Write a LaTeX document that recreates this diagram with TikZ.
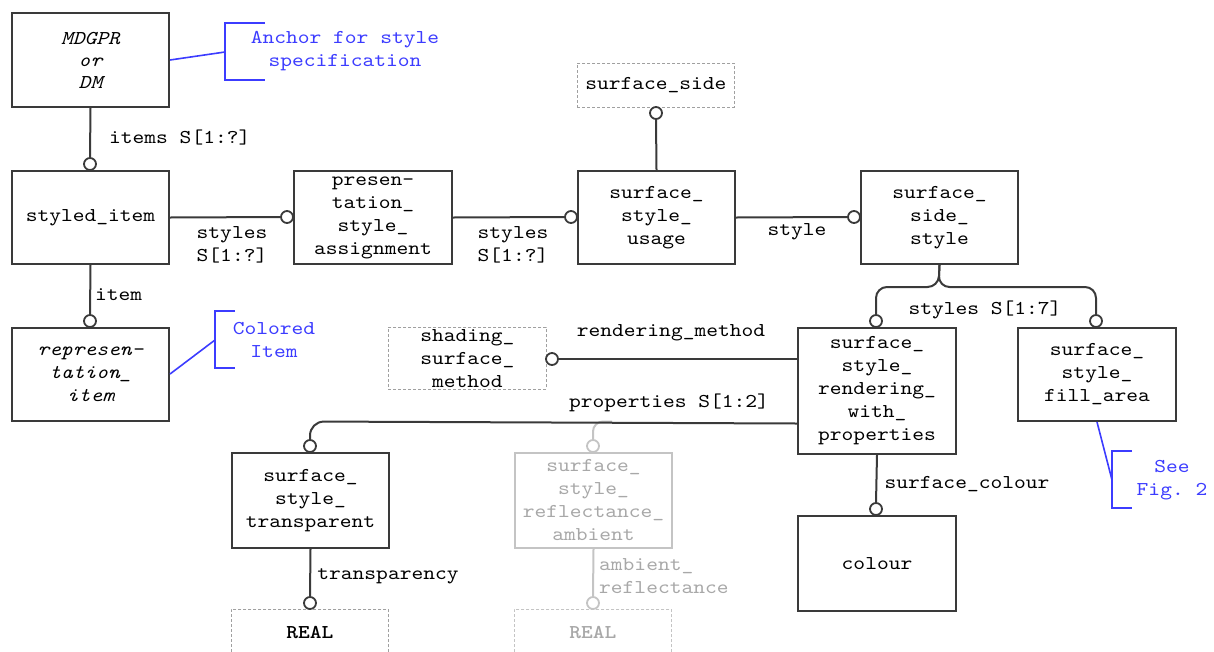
\documentclass[tikz,border=0pt]{standalone}
\usepackage{fontspec}
\setmonofont[FakeStretch=1.143, ItalicFont=lmmono10-italic.otf, BoldFont=lmmonolt10-bold.otf, BoldFeatures={FakeStretch=1.143}, ItalicFeatures={FakeStretch=1.143}]{lmmono10-regular.otf}
\usetikzlibrary{calc}
\definecolor{ln}{HTML}{3A3A3A}
\definecolor{bl}{HTML}{3C3CFF}
\definecolor{gtxt}{HTML}{A8A8A8}
\definecolor{gln}{HTML}{C4C4C4}
\definecolor{dsh}{HTML}{A0A0A0}
\begin{document}
\begin{tikzpicture}[x=1pt,y=-1pt,
  every node/.style={font=\ttfamily\fontsize{19.6}{23}\selectfont},
  ent/.style={draw=ln, line width=2pt, minimum width=157pt, minimum height=93pt, inner sep=0pt, align=center, anchor=north west},
  ext/.style={draw=dsh, line width=0.7pt, dash pattern=on 3pt off 2pt, minimum width=157pt, minimum height=44pt, inner sep=0pt, align=center, anchor=north west},
  gent/.style={draw=gln, text=gtxt, line width=2pt, minimum width=157pt, minimum height=95pt, inner sep=0pt, align=center, anchor=north west},
  gext/.style={draw=gln, text=gtxt, line width=0.7pt, dash pattern=on 3pt off 2pt, minimum width=157pt, minimum height=46pt, inner sep=0pt, align=center, anchor=north west},
  circ/.style={circle, draw=ln, fill=white, line width=1.8pt, minimum size=12pt, inner sep=0pt},
  gcirc/.style={circle, draw=gln, fill=white, line width=1.8pt, minimum size=12pt, inner sep=0pt},
  conn/.style={draw=ln, line width=2pt},
  gconn/.style={draw=gln, line width=2pt},
  lbl/.style={inner sep=0pt, align=center},
  note/.style={inner sep=0pt, align=center, text=bl},
  nline/.style={draw=bl, line width=1.6pt}
]
\useasboundingbox (0,0) rectangle (1214,651);

% entities
\node[ent, minimum height=94pt] (mdg) at (11,12) {\itshape MDGPR\\[-1pt]\itshape or\\[-1pt]\itshape DM};
\node[ent] (sti) at (11,170) {styled\_item};
\node[ent] (rep) at (11,327) {\itshape represen-\\\itshape tation\_\\\itshape item};
\node[ent, minimum width=158pt] (psa) at (293,170) {presen-\\tation\_\\style\_\\assignment};
\node[ent] (ssu) at (577,170) {surface\_\\style\_\\usage};
\node[ext] (sside) at (577,63) {surface\_side};
\node[ent] (sss) at (860,170) {surface\_\\side\_\\style};
\node[ent, minimum width=158pt, minimum height=126pt] (sswp) at (797,327) {surface\_\\style\_\\rendering\_\\with\_\\properties};
\node[ent, minimum width=158pt] (ssfa) at (1017,327) {surface\_\\style\_\\fill\_area};
\node[ext, minimum width=158pt, minimum height=62pt] (ssm) at (388,327) {shading\_\\surface\_\\method};
\node[ent, minimum height=95pt] (sst) at (231,452) {surface\_\\style\_\\transparent};
\node[gent] (ssra) at (514,452) {surface\_\\style\_\\reflectance\_\\ambient};
\node[ent, minimum width=158pt, minimum height=95pt] (col) at (797,515) {colour};
\node[ext, minimum height=46pt] (real1) at (231,609) {\bfseries REAL};
\node[gext] (real2) at (514,609) {\bfseries REAL};

% circles
\node[circ] (c1) at (90,164) {};
\node[circ] (c2) at (90,321) {};
\node[circ] (c3) at (287,217) {};
\node[circ] (c4) at (571,217) {};
\node[circ] (c5) at (854,217) {};
\node[circ] (c6) at (656,113) {};
\node[circ] (c7) at (876,321) {};
\node[circ] (c8) at (1096,321) {};
\node[circ] (c9) at (552,359) {};
\node[circ] (c10) at (310,446) {};
\node[gcirc] (c11) at (593,446) {};
\node[circ] (c12) at (876,509) {};
\node[circ] (c13) at (310,603) {};
\node[gcirc] (c14) at (593,603) {};

% connectors
\draw[conn] (mdg.south) -- (c1.north);
\draw[conn] (sti.south) -- (c2.north);
\draw[conn] (sti.east) -- (c3.west);
\draw[conn] (psa.east) -- (c4.west);
\draw[conn] (ssu.east) -- (c5.west);
\draw[conn] (c6.south) -- (ssu.north);
\draw[conn, rounded corners=11pt] (sss.south) -- (938.5,287) -- (876,287) -- (c7.north);
\draw[conn, rounded corners=11pt] (sss.south) -- (938.5,287) -- (1096,287) -- (c8.north);
\draw[conn] ($(sswp.north west)+(0,32)$) -- (c9.east);
\draw[gconn, rounded corners=10pt] (612,421.5) -- (593,421.5) -- (c11.north);
\draw[conn, rounded corners=14pt] ($(sswp.south west)+(0,-31.5)$) -- (310,421.5) -- (c10.north);
\draw[conn] (sswp.south) -- (c12.north);
\draw[conn] (sst.south) -- (c13.north);
\draw[gconn] (ssra.south) -- (c14.north);

% labels
\node[lbl, anchor=west] (l1) at (109,138) {items S[1:?]};
\node[lbl] (l2) at (232,245) {styles\\S[1:?]};
\node[lbl] (l3) at (513,245) {styles\\S[1:?]};
\node[lbl] (l4) at (797,232) {style};
\node[lbl] (l5) at (985,310) {styles S[1:7]};
\node[lbl, anchor=west] (l6) at (95,295) {item};
\node[lbl] (l7) at (671,333) {rendering\_method};
\node[lbl] (l8) at (669,403) {properties S[1:2]};
\node[lbl] (l9) at (967,484) {surface\_colour};
\node[lbl] (l10) at (388,576) {transparency};
\node[lbl, align=left, anchor=west, text=gtxt] (l11) at (599,576) {ambient\_\\reflectance};

% notes
\node[note] (n1) at (345,51) {Anchor for style\\specification};
\coordinate (b1t) at (265,23);
\coordinate (b1b) at (265,80);
\coordinate (b1m) at (225,52);
\draw[nline] (b1t) -- (225,23) -- (225,80) -- (b1b);
\draw[nline] (mdg.east) -- (b1m);

\node[note] (n2) at (274,340) {Colored\\Item};
\coordinate (b2t) at (235,311);
\coordinate (b2b) at (235,368);
\coordinate (b2m) at (215,340);
\draw[nline] (b2t) -- (215,311) -- (215,368) -- (b2b);
\draw[nline] ($(rep.east)+(0,-0.5)$) -- (b2m);

\node[note] (n3) at (1172,480) {See\\Fig. 2};
\coordinate (b3t) at (1132,451);
\coordinate (b3b) at (1132,508);
\coordinate (b3m) at (1112,480);
\draw[nline] (b3t) -- (1112,451) -- (1112,508) -- (b3b);
\draw[nline] (ssfa.south) -- (b3m);
\end{tikzpicture}
\end{document}
